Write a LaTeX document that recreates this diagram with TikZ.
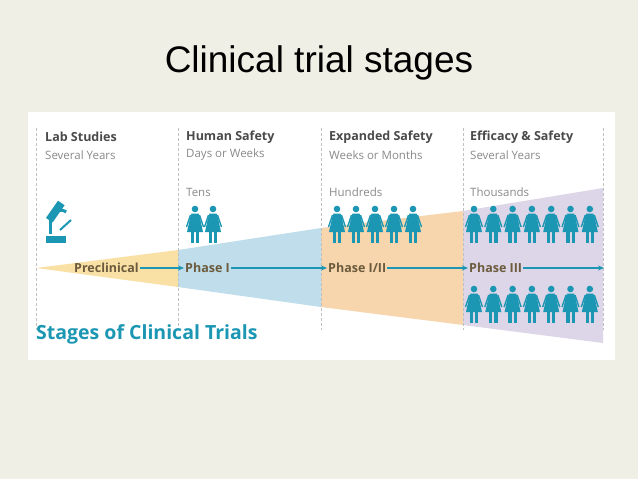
\documentclass[tikz,border=0pt]{standalone}
\usepackage{fontspec}
\setmainfont{Open Sans}
\newfontfamily\titlefont{Liberation Sans}
\usetikzlibrary{arrows.meta}
\definecolor{bg}{HTML}{F0EFE6}
\definecolor{teal}{HTML}{1C97B3}
\definecolor{hd}{HTML}{4A4A4A}
\definecolor{sub}{HTML}{8A8A8A}
\definecolor{yel}{HTML}{F9E1A6}
\definecolor{blu}{HTML}{BFDDEA}
\definecolor{ora}{HTML}{F7D6AE}
\definecolor{pur}{HTML}{DDD6E8}
\definecolor{lbl}{HTML}{6B5A3C}
\tikzset{
  hdr/.style={anchor=west,font=\bfseries\fontsize{12.5}{13}\selectfont,text=hd,inner sep=0pt},
  subt/.style={anchor=west,font=\fontsize{11.5}{12}\selectfont,text=sub,inner sep=0pt},
  phase/.style={anchor=west,font=\bfseries\fontsize{12.5}{13}\selectfont,text=lbl,inner sep=1pt},
  arr/.style={teal,line width=1.2pt,-{Stealth[length=6pt,width=5pt]}},
  sep/.style={densely dashed,gray!50,line width=0.5pt},
  person/.pic={
    \fill[teal] (0,3) circle (3.3);
    \fill[teal] (-3.5,7.5)--(3.5,7.5)--(5,12)--(8,26)--(-8,26)--(-5,12)--cycle;
    \fill[teal] (-4.2,26)rectangle(-1,37);
    \fill[teal] (1,26)rectangle(4.2,37);
    \draw[teal,line width=1.4pt] (-4.5,9)--(-8.5,21) (4.5,9)--(8.5,21);
  }
}
\begin{document}
\begin{tikzpicture}[x=1pt,y=-1pt]
\fill[bg] (0,0) rectangle (638,479);
\useasboundingbox (0,0) rectangle (638,479);
\node[font=\titlefont\fontsize{37}{40}\selectfont] (title) at (319,63) {Clinical trial stages};
\fill[white] (28,112) rectangle (615,360);
% wedges
\fill[yel] (36,268)--(178,250)--(178,287)--cycle;
\fill[blu] (178,250)--(321,228)--(321,307)--(178,287)--cycle;
\fill[ora] (321,228)--(463,211)--(463,325)--(321,307)--cycle;
\fill[pur] (463,211)--(603,188)--(603,343)--(463,325)--cycle;
\foreach \x in {36,178,321,463,603} \draw[sep] (\x,128)--(\x,330);
% headers
\node[hdr] (h1) at (45,137) {Lab Studies};
\node[subt] (s1) at (45,155) {Several Years};
\node[hdr] (h2) at (186,137) {Human Safety};
\node[subt] (s2) at (186,155) {Days or Weeks};
\node[hdr] (h3) at (329,137) {Expanded Safety};
\node[subt] (s3) at (329,155) {Weeks or Months};
\node[hdr] (h4) at (470,137) {Efficacy \& Safety};
\node[subt] (s4) at (470,155) {Several Years};
\node[subt] (n2) at (186,192) {Tens};
\node[subt] (n3) at (329,192) {Hundreds};
\node[subt] (n4) at (470,192) {Thousands};
% microscope
\begin{scope}[teal]
\fill[rotate around={-35:(55,212)}] (51,201) rectangle (59,222);
\draw[line width=3pt] (49,218) arc (200:300:12);
\draw[line width=3pt] (50,218)--(50,234);
\fill (46,236) rectangle (66,243);
\draw[line width=2pt] (60,230)--(71,220);
\end{scope}
% phases
\node[phase] (p0) at (73,268) {Preclinical};
\node[phase] (p1) at (184,268) {Phase I};
\node[phase] (p2) at (327,268) {Phase I/II};
\node[phase] (p3) at (468,268) {Phase III};
\coordinate (e4) at (604,268);
\draw[arr] (p0.east) -- (p1.west);
\draw[arr] (p1.east) -- (p2.west);
\draw[arr] (p2.east) -- (p3.west);
\draw[arr] (p3.east) -- (e4);
% people
\foreach \x in {195,213} \pic at (\x,206) {person};
\foreach \i in {0,...,4} \pic at (337+19*\i,206) {person};
\foreach \i in {0,...,6} \pic at (474+19.3*\i,206) {person};
\foreach \i in {0,...,6} \pic at (474+19.3*\i,286) {person};
\node[anchor=west,inner sep=0pt,text=teal,font=\fontsize{19.5}{22}\selectfont\bfseries] (st) at (36,334) {Stages of Clinical Trials};
\end{tikzpicture}
\end{document}
